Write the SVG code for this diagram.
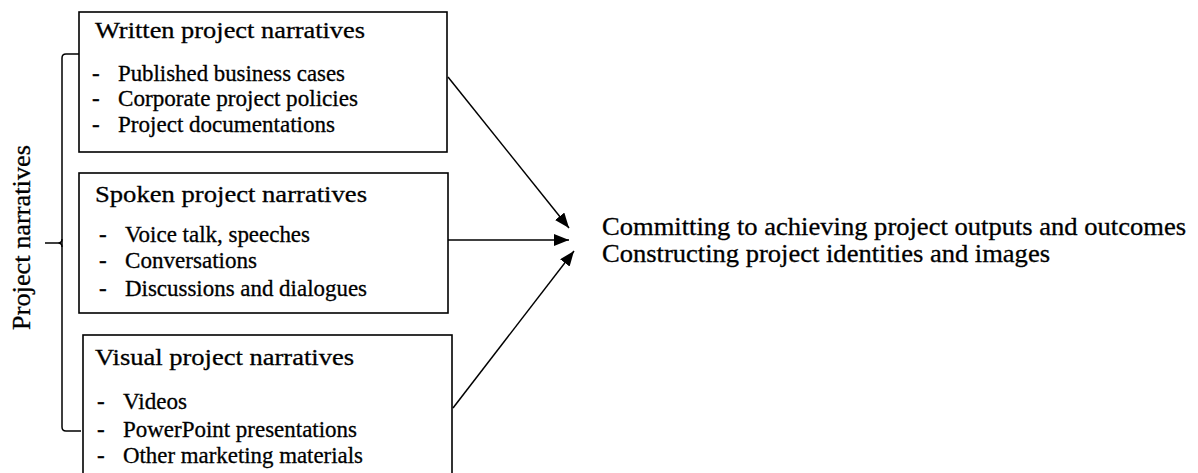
<svg xmlns="http://www.w3.org/2000/svg" width="1198" height="473" viewBox="0 0 1198 473">
<style>
.box{fill:#fff;stroke:#000;stroke-width:1.6}
.t{font-family:'Liberation Serif','Times New Roman',Times,serif;fill:#000;stroke:#000;stroke-width:0.3}
.title{font-size:24px}
.item{font-size:23px}
.big{font-size:25px}
.conn{stroke:#000;stroke-width:1.5;fill:none}
</style>
<defs>
<marker id="ah" markerUnits="userSpaceOnUse" markerWidth="16" markerHeight="12" refX="15" refY="6" orient="auto">
<path d="M0,0 L15,6 L0,12 Z" fill="#000"/>
</marker>
</defs>
<rect width="1198" height="473" fill="#fff"/>
<g id="bracket">
<path class="conn" d="M79,54 L66,54 Q62,54 62,58 L62,427 Q62,431 66,431 L81,431"/>
<path class="conn" d="M45,243 L58,243 Q62,243 62,239 M58,243 Q62,243 62,247"/>
</g>
<g id="label-project-narratives">
<text class="t big" transform="translate(30,330) rotate(-90)" textLength="185" lengthAdjust="spacingAndGlyphs">Project narratives</text>
</g>
<g id="written">
<rect class="box" x="79" y="12" width="368" height="140"/>
<text class="t title" x="95" y="38" textLength="270" lengthAdjust="spacingAndGlyphs">Written project narratives</text>
<text class="t item" x="92" y="81">-</text>
<text class="t item" x="118" y="81" textLength="227" lengthAdjust="spacingAndGlyphs">Published business cases</text>
<text class="t item" x="92" y="106">-</text>
<text class="t item" x="118" y="106" textLength="240" lengthAdjust="spacingAndGlyphs">Corporate project policies</text>
<text class="t item" x="92" y="132">-</text>
<text class="t item" x="118" y="132" textLength="217" lengthAdjust="spacingAndGlyphs">Project documentations</text>
</g>
<g id="spoken">
<rect class="box" x="79" y="173" width="369" height="140"/>
<text class="t title" x="95" y="202" textLength="272" lengthAdjust="spacingAndGlyphs">Spoken project narratives</text>
<text class="t item" x="99" y="242">-</text>
<text class="t item" x="125" y="242" textLength="185" lengthAdjust="spacingAndGlyphs">Voice talk, speeches</text>
<text class="t item" x="99" y="268">-</text>
<text class="t item" x="125" y="268" textLength="132" lengthAdjust="spacingAndGlyphs">Conversations</text>
<text class="t item" x="99" y="296">-</text>
<text class="t item" x="125" y="296" textLength="242" lengthAdjust="spacingAndGlyphs">Discussions and dialogues</text>
</g>
<g id="visual">
<rect class="box" x="83" y="335" width="369" height="150"/>
<text class="t title" x="95" y="365" textLength="259" lengthAdjust="spacingAndGlyphs">Visual project narratives</text>
<text class="t item" x="97" y="409">-</text>
<text class="t item" x="123" y="409" textLength="64" lengthAdjust="spacingAndGlyphs">Videos</text>
<text class="t item" x="97" y="437">-</text>
<text class="t item" x="123" y="437" textLength="234" lengthAdjust="spacingAndGlyphs">PowerPoint presentations</text>
<text class="t item" x="97" y="463">-</text>
<text class="t item" x="123" y="463" textLength="240" lengthAdjust="spacingAndGlyphs">Other marketing materials</text>
</g>
<g id="connectors">
<line class="conn" x1="448" y1="77" x2="569" y2="228" marker-end="url(#ah)"/>
<line class="conn" x1="448" y1="240" x2="569" y2="240" marker-end="url(#ah)"/>
<line class="conn" x1="453" y1="408" x2="574" y2="251" marker-end="url(#ah)"/>
</g>
<g id="outcomes">
<text class="t big" x="602" y="235" textLength="584" lengthAdjust="spacingAndGlyphs">Committing to achieving project outputs and outcomes</text>
<text class="t big" x="602" y="262" textLength="448" lengthAdjust="spacingAndGlyphs">Constructing project identities and images</text>
</g>
</svg>
